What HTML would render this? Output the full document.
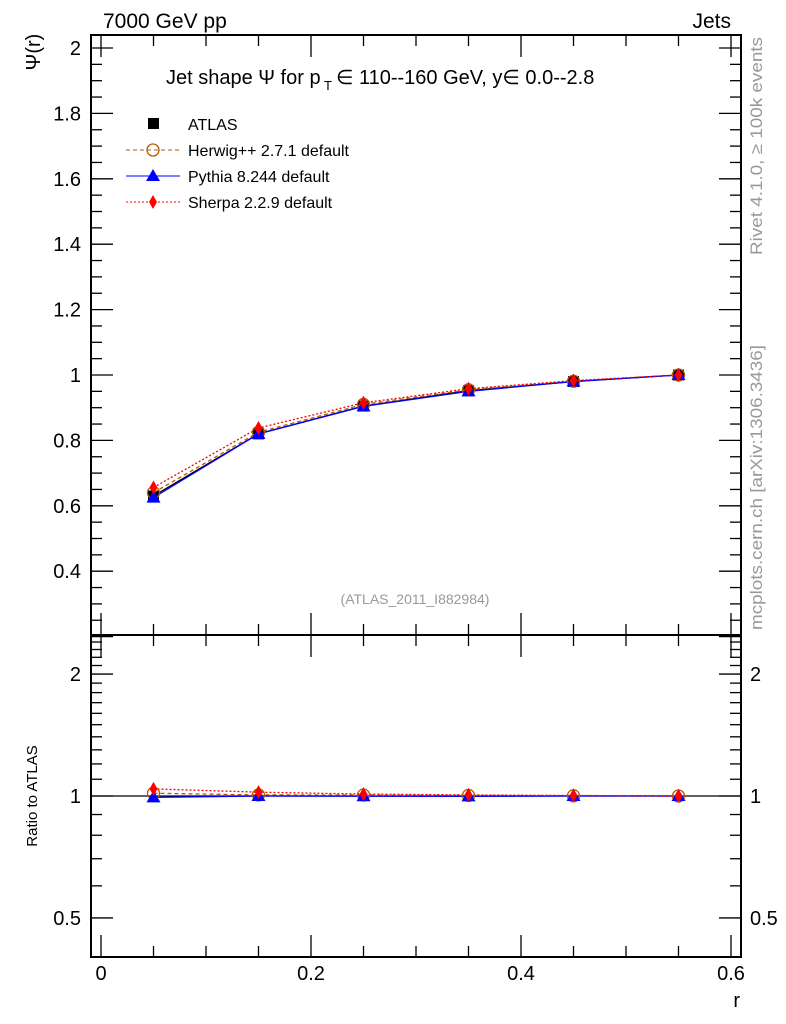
<!DOCTYPE html>
<html><head><meta charset="utf-8"><style>
body{margin:0;background:#fff;}
svg{display:block;font-family:"Liberation Sans",sans-serif;}
</style></head><body>
<svg id="s" width="786" height="1024" xmlns="http://www.w3.org/2000/svg">
<text x="103" y="28" font-size="21">7000 GeV pp</text>
<text x="731" y="28" font-size="21" text-anchor="end">Jets</text>
<text x="166" y="84" font-size="20">Jet shape Ψ for p</text>
<text x="324" y="90" font-size="13">T</text>
<text x="336" y="84" font-size="20">∈ 110--160 GeV, y∈ 0.0--2.8</text>
<text x="415" y="604" font-size="14" fill="#999" text-anchor="middle">(ATLAS_2011_I882984)</text>
<text transform="translate(762,255) rotate(-90)" font-size="17" fill="#999" textLength="218" lengthAdjust="spacingAndGlyphs">Rivet 4.1.0, ≥ 100k events</text>
<text transform="translate(762,630) rotate(-90)" font-size="17" fill="#999" textLength="285" lengthAdjust="spacingAndGlyphs">mcplots.cern.ch [arXiv:1306.3436]</text>
<text transform="translate(40,52) rotate(-90)" font-size="20" text-anchor="middle">Ψ(r)</text>
<text transform="translate(37,796) rotate(-90)" font-size="15" text-anchor="middle">Ratio to ATLAS</text>
<text x="740" y="1007" font-size="20" text-anchor="end">r</text>
<!-- legend -->
<rect x="148" y="118" width="11" height="11" fill="#000"/>
<text x="188" y="130" font-size="16">ATLAS</text>
<line x1="126" y1="150" x2="180" y2="150" stroke="#b35900" stroke-dasharray="4,3"/>
<circle cx="153" cy="150" r="6" fill="none" stroke="#b35900" stroke-width="1.3"/>
<text x="188" y="156" font-size="16">Herwig++ 2.7.1 default</text>
<line x1="126" y1="176" x2="180" y2="176" stroke="#0000ff"/>
<polygon points="153,169 160,181 146,181" fill="#0000ff"/>
<text x="188" y="182" font-size="16">Pythia 8.244 default</text>
<line x1="126" y1="202" x2="180" y2="202" stroke="#ff0000" stroke-dasharray="2,2"/>
<polygon points="153,195 157,202 153,209 149,202" fill="#ff0000"/>
<text x="188" y="208" font-size="16">Sherpa 2.2.9 default</text>
<g id="g"></g>
</svg>
<script>
const g=document.getElementById('g');const NS="http://www.w3.org/2000/svg";
function el(t,a,txt){const e=document.createElementNS(NS,t);for(const k in a)e.setAttribute(k,a[k]);if(txt!==undefined)e.textContent=txt;g.appendChild(e);return e;}
const L=91,R=741,T=35,M=635,B=957;
const X=r=>101+r*1050;
const Ym=v=>375-(v-1)*327;
const Yr=v=>796-405*Math.log10(v);
el('rect',{x:L,y:T,width:R-L,height:M-T,fill:'none',stroke:'#000','stroke-width':2});
el('rect',{x:L,y:M,width:R-L,height:B-M,fill:'none',stroke:'#000','stroke-width':2});
for(let i=0;i<=12;i++){const r=i*0.05,x=X(r),big=i%4==0,len=big?22:11;
 [[M,-1],[T,1],[B,-1],[M,1]].forEach(([y,d])=>el('line',{x1:x,y1:y,x2:x,y2:y+d*len,stroke:'#000','stroke-width':1.3}));
 if(big)el('text',{x:x,y:980,'font-size':20,'text-anchor':'middle'},(r===0?'0':r.toFixed(1)));}
for(let i=0;i<=40;i++){const v=0.2+i*0.05;if(v>2.04)break;const y=Ym(v);const big=Math.abs(v*5-Math.round(v*5))<1e-6;const len=big?22:11;
 el('line',{x1:L,y1:y,x2:L+len,y2:y,stroke:'#000','stroke-width':1.3});
 el('line',{x1:R,y1:y,x2:R-len,y2:y,stroke:'#000','stroke-width':1.3});
 if(big&&v>0.3){let s=(Math.abs(v-1)<1e-6)?'1':(Math.abs(v-2)<1e-6)?'2':v.toFixed(1);el('text',{x:81,y:y+7,'font-size':20,'text-anchor':'end'},s);}}
const rt=[0.4,0.5,0.6,0.7,0.8,0.9,1,1.1,1.2,1.3,1.4,1.5,1.6,1.7,1.8,1.9,2,2.1,2.2,2.3,2.4,2.5];
rt.forEach(v=>{const y=Yr(v);if(y<M+1||y>B-1)return;const big=[0.5,1,2].some(b=>Math.abs(b-v)<1e-6);const len=big?22:11;
 el('line',{x1:L,y1:y,x2:L+len,y2:y,stroke:'#000','stroke-width':1.3});
 el('line',{x1:R,y1:y,x2:R-len,y2:y,stroke:'#000','stroke-width':1.3});
 if(big){const s=v==0.5?'0.5':String(v);el('text',{x:81,y:y+7,'font-size':20,'text-anchor':'end'},s);el('text',{x:750,y:y+7,'font-size':20},s);}});
el('line',{x1:L,y1:Yr(1),x2:R,y2:Yr(1),stroke:'#000','stroke-width':1.3});
const rs=[0.05,0.15,0.25,0.35,0.45,0.55];
const atl=[0.63,0.82,0.905,0.952,0.98,1.0];
const her=[0.64,0.825,0.91,0.955,0.981,1.0];
const pyt=[0.625,0.82,0.904,0.95,0.98,1.0];
const she=[0.656,0.838,0.915,0.958,0.983,1.0];
function line(d,Y,c,dash,ref){const p=rs.map((r,i)=>X(r)+','+Y(ref?d[i]/ref[i]:d[i])).join(' ');el('polyline',{points:p,fill:'none',stroke:c,'stroke-width':1.3,'stroke-dasharray':dash});}
function marks(d,Y,ref,type){rs.forEach((r,i)=>{const x=X(r),y=Y(ref?d[i]/ref[i]:d[i]);
 if(type=='sq')el('rect',{x:x-5.5,y:y-5.5,width:11,height:11,fill:'#000'});
 if(type=='c')el('circle',{cx:x,cy:y,r:6,fill:'none',stroke:'#b35900','stroke-width':1.3});
 if(type=='t')el('polygon',{points:`${x},${y-7} ${x+7},${y+5} ${x-7},${y+5}`,fill:'#0000ff'});
 if(type=='d')el('polygon',{points:`${x},${y-7} ${x+4},${y} ${x},${y+7} ${x-4},${y}`,fill:'#ff0000'});});}
line(atl,Ym,'#000','');
marks(atl,Ym,null,'sq');
line(her,Ym,'#b35900','4,3');line(pyt,Ym,'#0000ff','');line(she,Ym,'#ff0000','2,2');
marks(her,Ym,null,'c');marks(pyt,Ym,null,'t');marks(she,Ym,null,'d');
line(her,Yr,'#b35900','4,3',atl);line(pyt,Yr,'#0000ff','',atl);line(she,Yr,'#ff0000','2,2',atl);
marks(her,Yr,atl,'c');marks(pyt,Yr,atl,'t');marks(she,Yr,atl,'d');
</script>
</body></html>
